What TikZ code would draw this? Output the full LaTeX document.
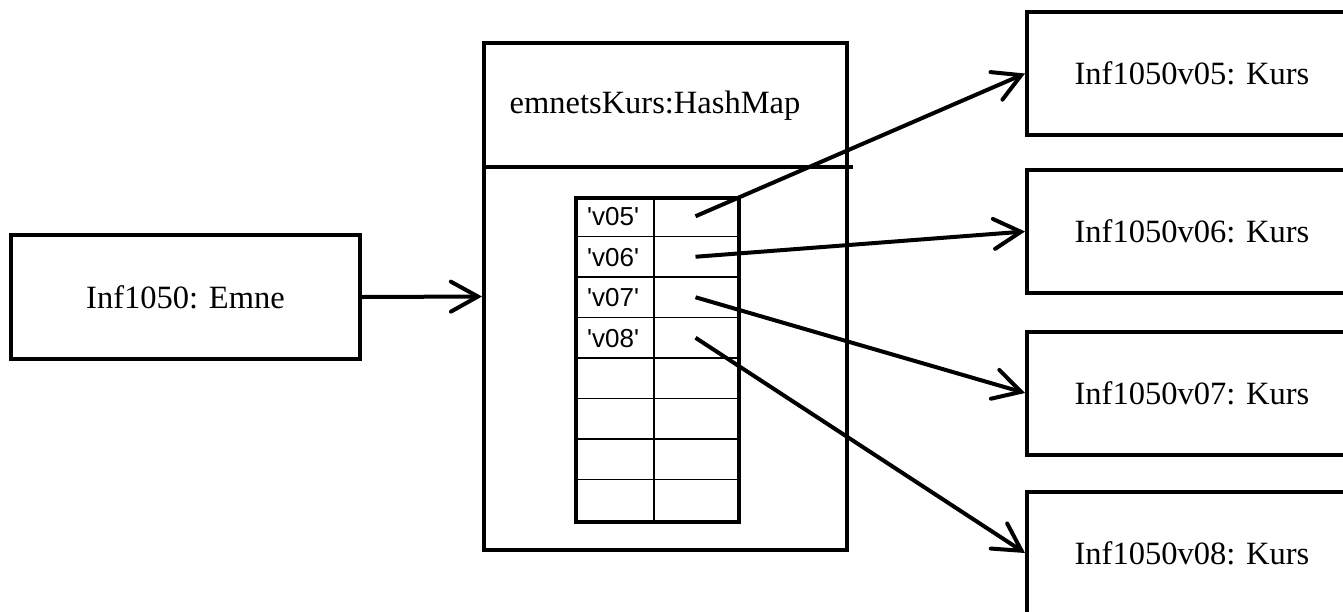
\documentclass[tikz,border=0pt]{standalone}
\usepackage{fontspec}
\setmainfont{Liberation Serif}
\newfontfamily\keyfont{Liberation Sans}
\usetikzlibrary{arrows.meta,calc}

\begin{document}
\begin{tikzpicture}[x=1pt,y=-1pt,
  obj/.style={draw,line width=4pt,rectangle,inner sep=0pt,
    font=\fontsize{32.5}{39}\selectfont},
  ref/.style={line width=4pt,
    -{Straight Barb[length=27pt,width=30pt,line width=4pt,line cap=round]}},
  cellline/.style={line width=1.7pt},
  keytext/.style={font=\keyfont\fontsize{26}{30}\selectfont,
    anchor=west,inner sep=0pt}]
\useasboundingbox (0,0) rectangle (1343,611);
\clip (0,0) rectangle (1343,611);

% the course object
\node[obj,minimum width=349pt,minimum height=124pt] (emne) at (185.5,297) {Inf1050: Emne};

% the map object with its name compartment
\node[obj,minimum width=363pt,minimum height=507pt] (map) at (665.5,296.5) {};
\node[font=\fontsize{32.5}{39}\selectfont,anchor=base,inner sep=0pt] (maplabel) at (655,113) {emnetsKurs:HashMap};
\coordinate (divy) at (0,167);
\draw[line width=4pt] (map.west |- divy) -- ($(map.east |- divy)+(4,0)$);

% the hash table: 8 rows, key and value columns
\node[draw,line width=4pt,rectangle,inner sep=0pt,minimum width=163pt,minimum height=324pt] (table) at (657.5,360) {};
\foreach \i in {1,...,7}
  \draw[cellline] ($(table.north west)+(0,40.5*\i)$) -- ($(table.north east)+(-4,40.5*\i)$);
\draw[cellline] ($(table.north west)+(80,0)$) -- ($(table.south west)+(80,0)$);

\foreach \i/\k in {1/v05,2/v06,3/v07,4/v08} {
  \node[keytext] (key\i) at ($(table.north west)+(13,40.5*\i-19.5)$) {'\k'};
  \coordinate (val\i) at ($(table.north west)+(121.5,40.5*\i-20.25)$);
}

% the semester objects
\foreach \k/\y in {05/73.5,06/231.5,07/393,08/553}
  \node[obj,minimum width=330pt,minimum height=123pt] (k\k) at (1192,\y) {Inf1050v\k: Kurs};

% references
\draw[ref] (emne.east) -- (map.west);
\draw[ref] (val1) -- (k05.west);
\draw[ref] (val2) -- (k06.west);
\draw[ref] (val3) -- (k07.west);
\draw[ref] (val4) -- (k08.west);
\end{tikzpicture}
\end{document}
